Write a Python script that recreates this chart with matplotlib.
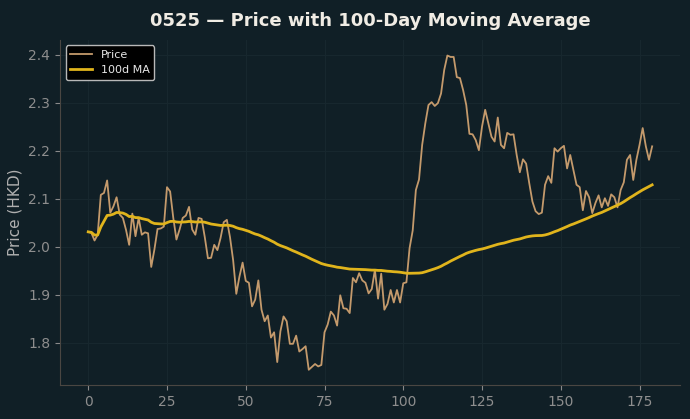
import numpy as np
import pandas as pd
import matplotlib
matplotlib.use("Agg")
import matplotlib.pyplot as plt

days = np.arange(180)
price = [
    2.031, 2.029, 2.013, 2.025, 2.108, 2.112, 2.138, 2.071, 2.084, 2.103,
    2.067, 2.060, 2.035, 2.004, 2.069, 2.022, 2.060, 2.025, 2.030, 2.028,
    1.958, 1.994, 2.037, 2.038, 2.042, 2.124, 2.115, 2.060, 2.015, 2.036,
    2.060, 2.065, 2.083, 2.036, 2.025, 2.060, 2.058, 2.020, 1.976, 1.977,
    2.004, 1.993, 2.018, 2.051, 2.056, 2.020, 1.972, 1.902, 1.938, 1.967,
    1.929, 1.925, 1.876, 1.890, 1.930, 1.869, 1.845, 1.857, 1.811, 1.822,
    1.760, 1.824, 1.855, 1.845, 1.798, 1.798, 1.815, 1.782, 1.787, 1.793,
    1.744, 1.750, 1.756, 1.751, 1.754, 1.822, 1.838, 1.865, 1.857, 1.836,
    1.899, 1.872, 1.871, 1.862, 1.935, 1.926, 1.945, 1.930, 1.925, 1.903,
    1.912, 1.952, 1.892, 1.944, 1.869, 1.881, 1.910, 1.884, 1.910, 1.884,
    1.924, 1.926, 1.997, 2.034, 2.118, 2.140, 2.212, 2.257, 2.295, 2.301,
    2.293, 2.299, 2.319, 2.368, 2.398, 2.395, 2.395, 2.353, 2.351, 2.326,
    2.295, 2.235, 2.234, 2.222, 2.201, 2.250, 2.285, 2.257, 2.229, 2.219,
    2.269, 2.212, 2.205, 2.237, 2.233, 2.234, 2.191, 2.155, 2.182, 2.173,
    2.132, 2.094, 2.074, 2.068, 2.071, 2.129, 2.147, 2.133, 2.205, 2.198,
    2.205, 2.210, 2.163, 2.191, 2.160, 2.129, 2.124, 2.076, 2.116, 2.103,
    2.070, 2.091, 2.107, 2.082, 2.101, 2.085, 2.109, 2.103, 2.082, 2.118,
    2.134, 2.181, 2.191, 2.139, 2.181, 2.212, 2.247, 2.209, 2.181, 2.209,
]
ma_window = 100
ma = pd.Series(price).rolling(ma_window, min_periods=1).mean()

bg = "#101f26"
fig, ax = plt.subplots(figsize=(6.9, 4.19), dpi=100)
fig.patch.set_facecolor(bg)
ax.set_facecolor(bg)

ax.plot(days, price, color="#c49a6c", lw=1.3, label="Price")
ax.plot(days, ma, color="#e0b41c", lw=2.0, label="100d MA")

ax.set_title("0525 — Price with 100-Day Moving Average", color="#f0ece4",
             fontsize=13, fontweight="bold", pad=10)
ax.set_ylabel("Price (HKD)", color="#b0b0b0", fontsize=11)
ax.grid(True, color="#17272e", lw=0.8)
ax.set_axisbelow(True)
for s in ["top", "right"]:
    ax.spines[s].set_visible(False)
for s in ["left", "bottom"]:
    ax.spines[s].set_color("#4a4642")
ax.tick_params(colors="#8a8a8a", labelcolor="#8e8e8e", labelsize=10)

leg = ax.legend(loc="upper left", facecolor="black", edgecolor="#b8b8b8",
                fontsize=8, framealpha=1.0)
for t in leg.get_texts():
    t.set_color("#e8e8e8")

fig.subplots_adjust(left=0.087, right=0.986, top=0.905, bottom=0.08)
fig.savefig("out.png", dpi=100, facecolor=bg)
